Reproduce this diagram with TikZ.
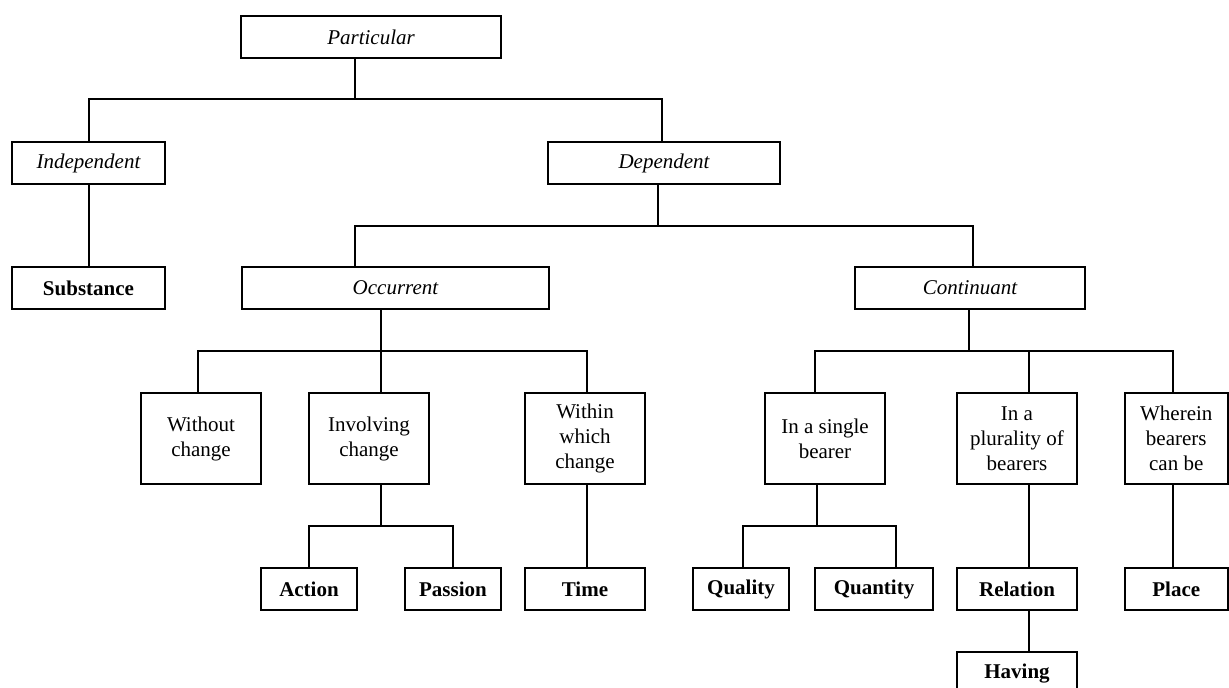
\documentclass[tikz,border=0pt]{standalone}
\usepackage{fontspec}
\setmainfont{Liberation Serif}
\begin{document}
\begin{tikzpicture}[x=1pt,y=-1pt,
  bx/.style={draw, line width=2pt, inner sep=0pt, align=center,
    font=\fontsize{21}{25}\selectfont},
  sz/.style 2 args={minimum width=#1pt, minimum height=#2pt},
  ln/.style={line width=2pt}]
\useasboundingbox (0,0) rectangle (1229,688);
\fill[white] (0,0) rectangle (1229,688);
\clip (0,0) rectangle (1229,688);
% level 0
\node[bx, sz={260}{42}] (p) at (371,37) {\itshape Particular};
% level 1
\node[bx, sz={153}{42}] (ind) at (88.5,163) {\itshape Independent};
\node[bx, sz={232}{42}] (dep) at (664,163) {\itshape Dependent};
% level 2
\node[bx, sz={153}{42}] (sub) at (88.5,288) {\bfseries Substance};
\node[bx, sz={307}{42}] (occ) at (395.5,288) {\itshape Occurrent};
\node[bx, sz={230}{42}] (con) at (970,288) {\itshape Continuant};
% level 3
\node[bx, sz={120}{91}] (wo) at (201,438.5) {Without\\change};
\node[bx, sz={120}{91}] (inv) at (369,438.5) {Involving\\change};
\node[bx, sz={120}{91}] (wi) at (585,438.5) {Within\\which\\change};
\node[bx, sz={120}{91}] (sgl) at (825,438.5) {In a single\\bearer};
\node[bx, sz={120}{91}] (plu) at (1017,438.5) {In a\\plurality of\\bearers};
\node[bx, sz={103.5}{91}] (whr) at (1176.25,438.5) {Wherein\\bearers\\can be};
% level 4
\node[bx, sz={96}{42}] (act) at (309,589) {\bfseries Action};
\node[bx, sz={96}{42}] (pas) at (453,589) {\bfseries Passion};
\node[bx, sz={120}{42}] (tim) at (585,589) {\bfseries Time};
\node[bx, sz={96}{42}] (qal) at (741,589) {\bfseries Quality};
\node[bx, sz={118}{42}] (qnt) at (874,589) {\bfseries Quantity};
\node[bx, sz={120}{42}] (rel) at (1017,589) {\bfseries Relation};
\node[bx, sz={103.5}{42}] (plc) at (1176.25,589) {\bfseries Place};
% level 5
\node[bx, sz={120}{44}, anchor=north] (hav) at (1017,651) {\bfseries Having};
% connectors
\draw[ln] (p.south -| 355,0) -- (355,99);
\draw[ln] (ind.north) |- (662,99) -- (dep.north -| 662,0);
\draw[ln] (ind.south) -- (sub.north);
\draw[ln] (dep.south -| 658,0) -- (658,226);
\draw[ln] (occ.north -| 355,0) |- (973,226) -- (con.north -| 973,0);
\draw[ln] (occ.south -| 381,0) -- (inv.north -| 381,0);
\draw[ln] (wo.north -| 198,0) |- (587,351) -- (wi.north -| 587,0);
\draw[ln] (inv.south -| 381,0) -- (381,526);
\draw[ln] (act.north) |- (pas.north |- 0,526) -- (pas.north);
\draw[ln] (wi.south -| 587,0) -- (tim.north -| 587,0);
\draw[ln] (con.south -| 969,0) -- (969,351);
\draw[ln] (sgl.north -| 815,0) |- (1173,351) -- (whr.north -| 1173,0);
\draw[ln] (plu.north -| 1029,0) -- (1029,351);
\draw[ln] (sgl.south -| 817,0) -- (817,526);
\draw[ln] (qal.north -| 743,0) |- (896,526) -- (qnt.north -| 896,0);
\draw[ln] (plu.south -| 1029,0) -- (rel.north -| 1029,0);
\draw[ln] (rel.south -| 1029,0) -- (hav.north -| 1029,0);
\draw[ln] (whr.south -| 1173,0) -- (plc.north -| 1173,0);
\end{tikzpicture}
\end{document}
